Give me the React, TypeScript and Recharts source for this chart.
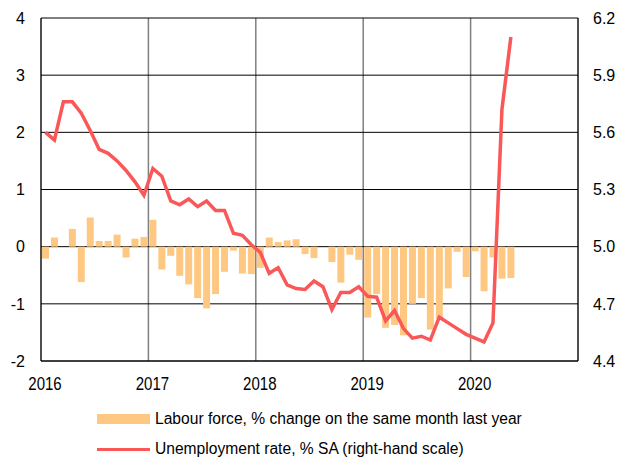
import React from 'react';
import { ComposedChart, Bar, Line, XAxis, YAxis, CartesianGrid, Legend } from 'recharts';

const FONT = '"Liberation Sans", Arial, sans-serif';

const months = [
  '2016-01', '2016-02', '2016-03', '2016-04', '2016-05', '2016-06', '2016-07', '2016-08', '2016-09', '2016-10', '2016-11', '2016-12',
  '2017-01', '2017-02', '2017-03', '2017-04', '2017-05', '2017-06', '2017-07', '2017-08', '2017-09', '2017-10', '2017-11', '2017-12',
  '2018-01', '2018-02', '2018-03', '2018-04', '2018-05', '2018-06', '2018-07', '2018-08', '2018-09', '2018-10', '2018-11', '2018-12',
  '2019-01', '2019-02', '2019-03', '2019-04', '2019-05', '2019-06', '2019-07', '2019-08', '2019-09', '2019-10', '2019-11', '2019-12',
  '2020-01', '2020-02', '2020-03', '2020-04', '2020-05',
];

const labourForce = [
  -0.21, 0.16, 0, 0.31, -0.62, 0.51, 0.1, 0.1, 0.21, -0.19, 0.14, 0.17,
  0.47, -0.4, -0.16, -0.51, -0.66, -0.9, -1.08, -0.83, -0.44, -0.07, -0.47, -0.48,
  -0.37, 0.16, 0.08, 0.11, 0.13, -0.13, -0.2, 0, -0.27, -0.63, -0.14, -0.23,
  -1.24, -0.83, -1.42, -1.37, -1.55, -1.0, -0.9, -1.45, -1.26, -0.73, -0.09, -0.53,
  -0.08, -0.78, -0.19, -0.56, -0.55,
];

const unemployment = [
  5.6, 5.56, 5.76, 5.76, 5.7, 5.61, 5.51, 5.49, 5.45, 5.4, 5.34, 5.27,
  5.41, 5.37, 5.24, 5.22, 5.25, 5.21, 5.24, 5.19, 5.19, 5.07, 5.06, 5.01,
  4.97, 4.86, 4.89, 4.8, 4.78, 4.775, 4.82, 4.79, 4.67, 4.76, 4.76, 4.79,
  4.74, 4.735, 4.61, 4.665, 4.57, 4.52, 4.53, 4.51, 4.63, 4.6, 4.57, 4.54,
  4.52, 4.5, 4.6, 5.72, 6.1,
];

const yearTicks = [2016, 2017, 2018, 2019, 2020, 2021];
const yearLabels = ['2016', '2017', '2018', '2019', '2020', ''];
const leftTicks = [-2, -1, 0, 1, 2, 3, 4];
const rightTicks = [4.4, 4.7, 5.0, 5.3, 5.6, 5.9, 6.2];

const SERIES_BAR = 'Labour force, % change on the same month last year';
const SERIES_LINE = 'Unemployment rate, % SA (right-hand scale)';

const toDecimal = (m: string) => {
  const [y, mo] = m.split('-').map(Number);
  return y + (mo - 0.5) / 12;
};

const data = months.map((m, i) => ({ x: toDecimal(m), lf: labourForce[i], ur: unemployment[i] }));

const XTick = (props: any) => {
  const { x, y, payload } = props;
  const idx = yearTicks.indexOf(payload.value);
  const label = idx >= 0 ? yearLabels[idx] : '';
  if (!label) return null;
  return (
    <g transform={`translate(${x + 4},${y + 14}) scale(0.79,1)`}>
      <text x={0} y={0} dy="0.355em" textAnchor="middle" fontSize={19} fontFamily={FONT} fill="#000">
        {label}
      </text>
    </g>
  );
};

const renderLegend = (props: any) => {
  const { payload } = props;
  return (
    <div style={{ position: 'relative', width: 622, height: 55, fontFamily: FONT, fontSize: 16, color: '#000' }}>
      {(payload || []).map((item: any, i: number) => (
        <div
          key={i}
          style={{ position: 'absolute', left: 97, top: i * 30, height: 30, display: 'flex', alignItems: 'center', whiteSpace: 'nowrap' }}
        >
          {item.type === 'line' ? (
            <div style={{ width: 53, height: 3, background: item.color }} />
          ) : (
            <div style={{ width: 53, height: 10, background: item.color }} />
          )}
          <span style={{ marginLeft: 5, display: 'inline-block', transform: 'scaleX(0.975)', transformOrigin: 'left center' }}>
            {item.value}
          </span>
        </div>
      ))}
    </div>
  );
};

export default function App() {
  return (
    <div style={{ position: 'absolute', left: 0, top: 0, width: 622, height: 459, background: '#fff' }}>
      <ComposedChart width={622} height={459} data={data} margin={{ top: 18, right: 0, left: 0, bottom: 0 }} style={{ fontFamily: FONT }}>
        <CartesianGrid yAxisId="left" horizontal={false} stroke="#808080" strokeWidth={1.5} />
        <XAxis
          dataKey="x"
          type="number"
          domain={[2016, 2021]}
          ticks={yearTicks}
          allowDataOverflow
          height={43}
          tickLine={false}
          axisLine={{ stroke: '#000' }}
          tick={<XTick />}
          interval={0}
        />
        <YAxis
          yAxisId="left"
          orientation="left"
          domain={[-2, 4]}
          ticks={leftTicks}
          width={41}
          tickLine={false}
          tickSize={6}
          tickMargin={10}
          axisLine={{ stroke: '#000' }}
          tick={{ fill: '#000', fontSize: 16, fontFamily: FONT }}
          interval={0}
        />
        <YAxis
          yAxisId="right"
          orientation="right"
          domain={[4.4, 6.2]}
          ticks={rightTicks}
          width={44}
          tickLine={false}
          tickSize={6}
          tickMargin={9}
          axisLine={{ stroke: '#000' }}
          tick={{ fill: '#000', fontSize: 16, fontFamily: FONT }}
          tickFormatter={(v: number) => v.toFixed(1)}
          interval={0}
          allowDataOverflow
        />
        <Bar yAxisId="left" dataKey="lf" name={SERIES_BAR} fill="#FEC883" barSize={7} isAnimationActive={false} />
        <CartesianGrid yAxisId="left" vertical={false} stroke="#000" strokeWidth={1} />
        <Line
          yAxisId="right"
          dataKey="ur"
          name={SERIES_LINE}
          type="linear"
          stroke="#FA5858"
          strokeWidth={3.5}
          dot={false}
          isAnimationActive={false}
        />
        <Legend verticalAlign="bottom" align="center" layout="vertical" content={renderLegend} wrapperStyle={{ left: 0, width: 622 }} />
      </ComposedChart>
    </div>
  );
}
